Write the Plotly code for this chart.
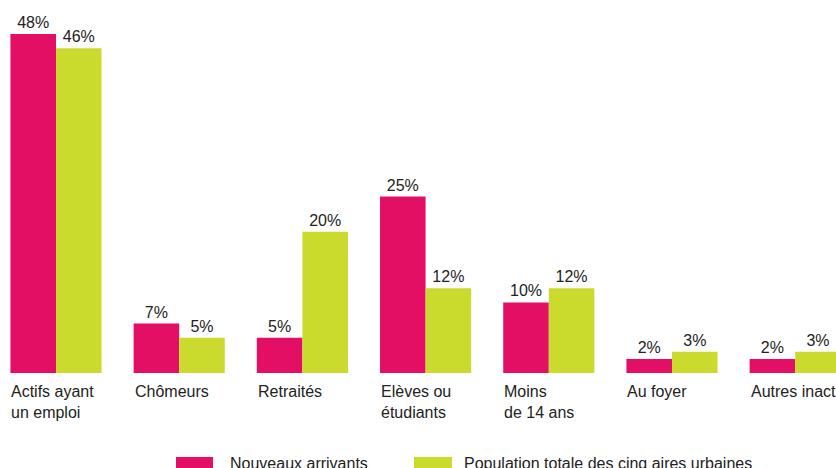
import plotly.graph_objects as go

categories = ["Actifs ayant<br>un emploi", "Chômeurs", "Retraités", "Elèves ou<br>étudiants",
              "Moins<br>de 14 ans", "Au foyer", "Autres inactifs"]
series_names = ["Nouveaux arrivants", "Population totale des cinq aires urbaines"]
nouveaux = [48, 7, 5, 25, 10, 2, 2]
population = [46, 5, 20, 12, 12, 3, 3]

MAGENTA = "#E30F64"
LIME = "#CBDB2D"
TEXT = "#222222"
BAR_W = 0.37

W, H = 836, 468
PLOT_BOTTOM = 95
plot_h = H - PLOT_BOTTOM

xs = list(range(len(categories)))

fig = go.Figure()
for name, vals, color, off in [(series_names[0], nouveaux, MAGENTA, -BAR_W),
                               (series_names[1], population, LIME, 0.0)]:
    fig.add_trace(go.Bar(
        x=xs, y=vals, name=name, marker=dict(color=color, line=dict(width=0)),
        width=BAR_W, offset=off,
        text=[f"{v}%" for v in vals], textposition="outside",
        textfont=dict(family="Liberation Sans, Arial", size=16, color=TEXT),
        cliponaxis=False, showlegend=False,
    ))

# category labels, left-aligned under each group
for i, cat in enumerate(categories):
    fig.add_annotation(
        x=i - BAR_W, xref="x", y=0, yref="paper", yanchor="top", xanchor="left",
        yshift=-8, xshift=-1, text=cat, showarrow=False, align="left",
        font=dict(family="Liberation Sans, Arial", size=16, color=TEXT),
    )

# legend swatches and labels
def py(p):
    return (plot_h - p) / plot_h

legend_items = [(series_names[0], MAGENTA, 176, 213, 228),
                (series_names[1], LIME, 414, 452, 462)]
for name, color, x0, x1, tx in legend_items:
    fig.add_shape(type="rect", xref="paper", yref="paper",
                  x0=x0 / W, x1=x1 / W, y0=py(457), y1=py(472),
                  fillcolor=color, line=dict(width=0))
    fig.add_annotation(x=tx / W, xref="paper", y=py(463), yref="paper",
                       xanchor="left", yanchor="middle", text=name, showarrow=False,
                       font=dict(family="Liberation Sans, Arial", size=16, color=TEXT))

unit = 123.2
left_px = 56
fig.update_layout(
    width=W, height=H, barmode="overlay",
    margin=dict(l=0, r=0, t=0, b=PLOT_BOTTOM),
    paper_bgcolor="white", plot_bgcolor="white",
    xaxis=dict(range=[-left_px / unit, (W - left_px) / unit], showticklabels=False,
               showgrid=False, zeroline=False, showline=False, ticks=""),
    yaxis=dict(range=[0, plot_h / 7.06], showticklabels=False, showgrid=False,
               zeroline=False, showline=False, ticks=""),
)

fig.write_html("out.html")
